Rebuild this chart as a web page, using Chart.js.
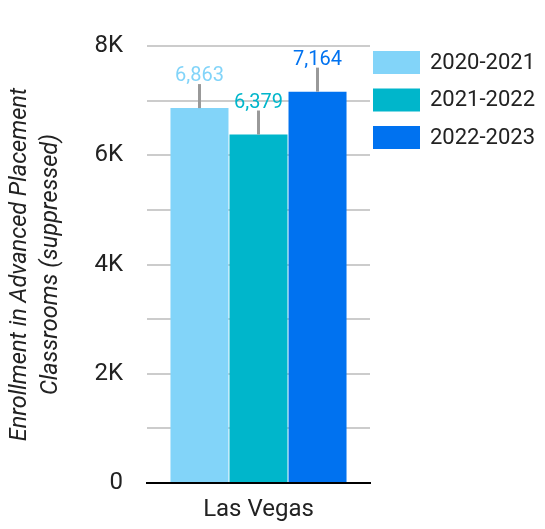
<!DOCTYPE html>
<html>
<head>
<meta charset="utf-8">
<script src="https://cdn.jsdelivr.net/npm/chart.js@4.4.1/dist/chart.umd.min.js"></script>
<style>
  html, body { margin: 0; padding: 0; background: #fff; }
  #wrap { width: 545px; height: 529px; position: relative; }
</style>
</head>
<body>
<div id="wrap"><canvas id="chart"></canvas></div>
<script>
// chart data
const categories = ['Las Vegas'];
const seriesNames = ['2020-2021', '2021-2022', '2022-2023'];
const seriesValues = [6863, 6379, 7164];
const errorValues = [440, 440, 440];
const seriesColors = ['#82d4f9', '#00b6cb', '#0072f0'];
const yTicks = [0, 2000, 4000, 6000, 8000];
const yTickLabels = ['0', '2K', '4K', '6K', '8K'];
const yTitle = ['Enrollment in Advanced Placement', 'Classrooms (suppressed)'];

const textColor = '#222';

// error bars + value labels above each bar
const barExtras = {
    id: 'barExtras',
    afterDatasetsDraw(chart) {
        const ctx = chart.ctx;
        const yScale = chart.scales.y;
        ctx.save();
        chart.data.datasets.forEach((ds, i) => {
            const bar = chart.getDatasetMeta(i).data[0];
            const top = yScale.getPixelForValue(seriesValues[i] + errorValues[i]);
            ctx.strokeStyle = '#999';
            ctx.lineWidth = 3;
            ctx.beginPath();
            ctx.moveTo(bar.x, bar.y);
            ctx.lineTo(bar.x, top);
            ctx.stroke();

            ctx.fillStyle = seriesColors[i];
            ctx.font = '20px Roboto';
            ctx.textAlign = 'center';
            ctx.textBaseline = 'alphabetic';
            ctx.fillText(seriesValues[i].toLocaleString('en-US'), bar.x, top - 3);
        });
        ctx.restore();
    }
};

// legend on the right, next to the plot area
const sideLegend = {
    id: 'sideLegend',
    afterDraw(chart) {
        const ctx = chart.ctx;
        const area = chart.chartArea;
        const x = area.right + 3;
        ctx.save();
        seriesNames.forEach((name, i) => {
            const top = area.top + 5 + i * 37.5;
            ctx.fillStyle = seriesColors[i];
            ctx.fillRect(x, top, 47, 23);
            ctx.fillStyle = textColor;
            ctx.font = '22px Roboto';
            ctx.textAlign = 'left';
            ctx.textBaseline = 'middle';
            ctx.fillText(name, x + 57, top + 12);
        });
        ctx.restore();
    }
};

new Chart(document.getElementById('chart'), {
    type: 'bar',
    data: {
        labels: categories,
        datasets: seriesNames.map((name, i) => ({
            label: name,
            data: [seriesValues[i]],
            backgroundColor: seriesColors[i],
            borderWidth: 0,
            categoryPercentage: 0.794,
            barPercentage: 0.983
        }))
    },
    options: {
        responsive: true,
        maintainAspectRatio: false,
        animation: false,
        layout: { padding: { top: 46, right: 175, left: 0, bottom: 0 } },
        plugins: {
            legend: { display: false },
            tooltip: { enabled: false }
        },
        scales: {
            x: {
                grid: { display: false, drawTicks: false },
                border: { display: true, color: '#000', width: 2 },
                ticks: { color: textColor, font: { family: 'Roboto', size: 24 }, padding: 13 },
                afterFit: s => { s.height = 46; }
            },
            y: {
                min: 0,
                max: 8000,
                grid: { color: '#cccccc', lineWidth: 2, drawTicks: false },
                border: { display: false },
                ticks: {
                    stepSize: 1000,
                    padding: 24,
                    color: textColor,
                    font: { family: 'Roboto', size: 24 },
                    callback: v => {
                        const k = yTicks.indexOf(v);
                        return k >= 0 ? yTickLabels[k] : '';
                    }
                },
                title: {
                    display: true,
                    text: yTitle,
                    color: textColor,
                    font: { family: 'Roboto', size: 23.5, style: 'italic', lineHeight: 1.35 },
                    padding: { top: 4, bottom: 0 }
                },
                afterFit: s => { s.width = 147; }
            }
        }
    },
    plugins: [barExtras, sideLegend]
});
</script>
</body>
</html>
